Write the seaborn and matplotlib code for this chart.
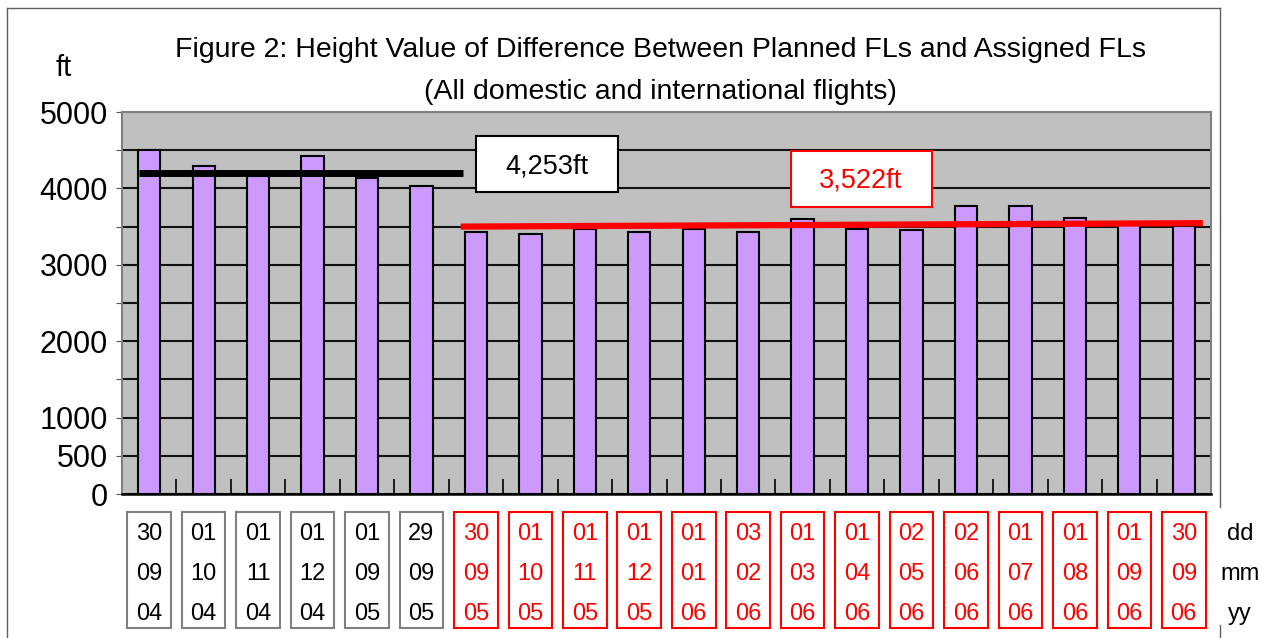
import matplotlib
matplotlib.use("Agg")
import matplotlib.pyplot as plt
import seaborn as sns
import pandas as pd
import numpy as np
from matplotlib.patches import Rectangle
from matplotlib.lines import Line2D
from matplotlib.transforms import blended_transform_factory, ScaledTranslation

# ---------------- data ----------------
days = ["30", "01", "01", "01", "01", "29", "30", "01", "01", "01",
        "01", "03", "01", "01", "02", "02", "01", "01", "01", "30"]
months = ["09", "10", "11", "12", "09", "09", "09", "10", "11", "12",
          "01", "02", "03", "04", "05", "06", "07", "08", "09", "09"]
years = ["04", "04", "04", "04", "05", "05", "05", "05", "05", "05",
         "06", "06", "06", "06", "06", "06", "06", "06", "06", "06"]
values = [4503, 4297, 4160, 4428, 4136, 4031, 3425, 3399, 3470, 3425,
          3470, 3425, 3604, 3473, 3451, 3765, 3765, 3613, 3520, 3510]
period = ["before"] * 6 + ["after"] * 14

before_avg_label = "4,253ft"
after_avg_label = "3,522ft"
before_line_values = [4200, 4200]
after_line_values = [3500, 3545]

y_tick_values = [0, 500, 1000, 1500, 2000, 2500, 3000, 3500, 4000, 4500, 5000]
y_tick_labels = ["0", "500", "1000", "", "2000", "", "3000", "", "4000", "", "5000"]
row_names = ["dd", "mm", "yy"]

title_line1 = "Figure 2: Height Value of Difference Between Planned FLs and Assigned FLs"
title_line2 = "(All domestic and international flights)"
unit_label = "ft"

df = pd.DataFrame({"pos": np.arange(len(values)), "value": values, "period": period})

# ---------------- style ----------------
plt.rcParams["font.family"] = ["Liberation Sans", "DejaVu Sans"]

W, H = 1273, 638
fig = plt.figure(figsize=(W / 100, H / 100), dpi=100)
fig.patch.set_facecolor("white")
ax = fig.add_axes([122 / W, 1 - 494 / H, (1211 - 122) / W, (494 - 112) / H])

sns.barplot(data=df, x="pos", y="value", color="#CC99FF", saturation=1,
            edgecolor="black", linewidth=1.5, width=0.41, ax=ax, zorder=3)

ax.set_facecolor("#C0C0C0")
ax.set_xlim(-0.5, len(values) - 0.5)
ax.set_ylim(0, 5000)
ax.set_xlabel("")
ax.set_ylabel("")

ax.set_yticks(y_tick_values)
ax.set_yticklabels(y_tick_labels, fontsize=22)
for lab in ax.get_yticklabels():
    lab.set_transform(lab.get_transform() + ScaledTranslation(0, -3 / 100, fig.dpi_scale_trans))
ax.yaxis.grid(True, color="#111111", linewidth=1.5)
ax.xaxis.grid(False)
ax.set_axisbelow(True)
ax.tick_params(axis="y", direction="out", length=4, color="#555555", pad=6)

ax.set_xticks(np.arange(-0.5, len(values), 1.0))
ax.set_xticklabels([])
ax.tick_params(axis="x", direction="in", length=11, color="black", width=1.2)

for s in ["top", "right", "left"]:
    ax.spines[s].set_color("#808080")
    ax.spines[s].set_linewidth(1.5)
ax.spines["bottom"].set_color("black")
ax.spines["bottom"].set_linewidth(1.8)

# average lines
ax.plot([-0.18, 5.76], before_line_values, color="black", linewidth=5, zorder=5,
        solid_capstyle="butt")
ax.plot([5.72, 19.35], after_line_values, color="#FF0000", linewidth=4.5, zorder=5,
        solid_capstyle="butt")

# average annotation boxes
ax.add_patch(Rectangle((6.0, 3953), 2.61, 733, facecolor="white", edgecolor="black",
                       linewidth=1.5, zorder=6))
ax.text(7.30, 4290, before_avg_label, ha="center", va="center", fontsize=19.5,
        color="black", zorder=7)
ax.add_patch(Rectangle((11.78, 3757), 2.59, 733, facecolor="white", edgecolor="#FF0000",
                       linewidth=1.5, zorder=6))
ax.text(13.07, 4100, after_avg_label, ha="center", va="center", fontsize=19.5,
        color="#FF0000", zorder=7)

# date label boxes under the axis
btr = blended_transform_factory(ax.transData, fig.transFigure)
box_bottom = 1 - 628 / H
box_top = 1 - 512 / H
line_y = [1 - 534 / H, 1 - 574 / H, 1 - 614 / H]
for i, (d, m, y, p) in enumerate(zip(days, months, years, period)):
    ec = "#808080" if p == "before" else "#FF0000"
    tc = "black" if p == "before" else "#FF0000"
    ax.add_patch(Rectangle((i - 0.4, box_bottom), 0.8, box_top - box_bottom,
                           transform=btr, facecolor="white", edgecolor=ec,
                           linewidth=1.5, clip_on=False))
    for txt, yy in zip((d, m, y), line_y):
        ax.text(i, yy, txt, transform=btr, ha="center", va="center",
                fontsize=17, color=tc, clip_on=False)

for name, yy in zip(row_names, line_y):
    fig.text(1240 / W, yy, name, ha="center", va="center", fontsize=17, color="black")

# titles
fig.text(660 / W, 1 - 50 / H, title_line1, ha="center", va="center", fontsize=20.5)
fig.text(660 / W, 1 - 92 / H, title_line2, ha="center", va="center", fontsize=20.5)
fig.text(64 / W, 1 - 68 / H, unit_label, ha="center", va="center", fontsize=21)

# outer frame (partially visible)
fc = "#606060"
fig.add_artist(Line2D([7 / W, 7 / W], [0, 1 - 8 / H], color=fc, linewidth=1))
fig.add_artist(Line2D([7 / W, 1220 / W], [1 - 8 / H, 1 - 8 / H], color=fc, linewidth=1))
fig.add_artist(Line2D([1220 / W, 1220 / W], [1 - 8 / H, 1 - 507 / H], color=fc, linewidth=1))
fig.add_artist(Line2D([1220 / W, 1220 / W], [1 - 625 / H, 0], color=fc, linewidth=1))

fig.savefig("out.png", dpi=100, facecolor="white")
